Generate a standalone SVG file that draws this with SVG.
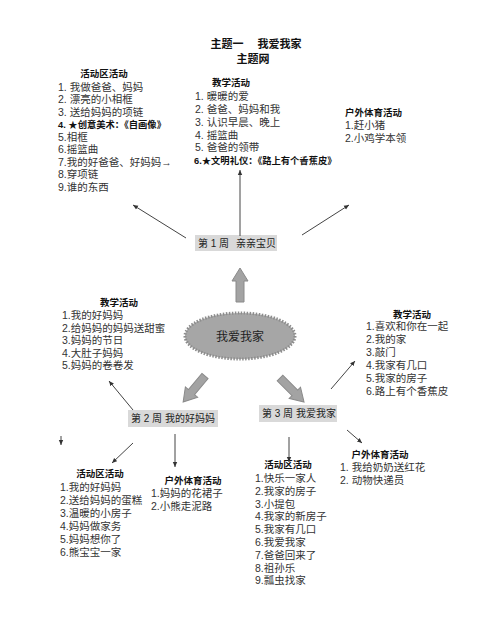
<svg xmlns="http://www.w3.org/2000/svg" width="500" height="619" viewBox="0 0 500 619">
<defs>
<marker id="ah" markerWidth="6" markerHeight="6" refX="5" refY="3" orient="auto" markerUnits="userSpaceOnUse">
<path d="M0,0.8 L5,3 L0,5.2 Z" fill="#333"/>
</marker>
<path id="bigarrow" d="M-4,0 L4,0 L4,21 L8,21 L0,34 L-8,21 L-4,21 Z"/>
</defs>
<style>
text{font-family:"Liberation Sans","Noto Sans CJK SC",sans-serif;fill:#333;font-size:10.5px}
.t{fill:#111;font-size:11px;font-weight:bold;text-anchor:middle}
.h{fill:#111;font-size:9.5px;font-weight:bold;text-anchor:middle}
.hl{fill:#111;font-size:9.5px;font-weight:bold}
.b{fill:#111;font-size:9.3px;font-weight:bold}
.wk{fill:#222;font-size:10px}
.lab{fill:#d9d9d9}
.con line{stroke:#444;stroke-width:1;marker-end:url(#ah)}
.ga{fill:#a3a3a3;stroke:#8a8a8a;stroke-width:1}
</style>
<rect width="500" height="619" fill="#fff"/>

<g id="title">
<text class="t" x="256" y="48">主题一　 我爱我家</text>
<text class="t" x="253" y="63">主题网</text>
</g>

<g id="top-left">
<text class="h" x="104" y="77">活动区活动</text>
<text x="58" y="90.5">1.  我做爸爸、妈妈</text>
<text x="58" y="103">2.  漂亮的小相框</text>
<text x="58" y="115.5">3.  送给妈妈的项链</text>
<text class="b" x="58" y="128">4. ★创意美术：《自画像》</text>
<text x="58" y="140.5">5.相框</text>
<text x="58" y="153">6.摇篮曲</text>
<text x="58" y="165.5">7.我的好爸爸、好妈妈→</text>
<text x="58" y="178">8.穿项链</text>
<text x="58" y="190.5">9.谁的东西</text>
</g>

<g id="top-mid">
<text class="h" x="231" y="86">教学活动</text>
<text x="195" y="100">1.  暖暖的爱</text>
<text x="195" y="113">2.  爸爸、妈妈和我</text>
<text x="195" y="126">3.  认识早晨、晚上</text>
<text x="195" y="139">4.  摇篮曲</text>
<text x="195" y="151">5.  爸爸的领带</text>
<text class="b" x="194" y="164">6.★文明礼仪：《路上有个香蕉皮》</text>
</g>

<g id="top-right">
<text class="hl" x="345" y="116">户外体育活动</text>
<text x="345" y="129">1.赶小猪</text>
<text x="345" y="142">2.小鸡学本领</text>
</g>

<g id="week1">
<rect class="lab" x="195" y="235" width="82" height="16"/>
<text class="wk" x="198" y="247">第 1 周</text>
<text class="wk" x="236" y="247">亲亲宝贝</text>
</g>

<g id="center">
<ellipse cx="240" cy="336" rx="55" ry="23" fill="#a6a6a6" stroke="#8c8c8c" stroke-width="3" stroke-dasharray="1.5 1.5"/>
<text x="240" y="341" text-anchor="middle" style="fill:#222;font-size:12px">我爱我家</text>
</g>

<g id="big-arrows">
<use href="#bigarrow" class="ga" transform="translate(240,302) rotate(180)"/>
<use href="#bigarrow" class="ga" transform="translate(205,376) rotate(40)"/>
<use href="#bigarrow" class="ga" transform="translate(280,378) rotate(-45)"/>
</g>

<g id="week2">
<rect class="lab" x="128" y="410" width="90" height="17"/>
<text class="wk" x="131" y="422">第 2 周</text>
<text class="wk" x="165" y="422">我的好妈妈</text>
</g>

<g id="week3">
<rect class="lab" x="259" y="405" width="78" height="17"/>
<text class="wk" x="262" y="417">第 3 周</text>
<text class="wk" x="296" y="417">我爱我家</text>
</g>

<g id="w2-teach">
<text class="h" x="119" y="306">教学活动</text>
<text x="62" y="319">1.我的好妈妈</text>
<text x="62" y="331.5">2.给妈妈的妈妈送甜蜜</text>
<text x="62" y="344">3.妈妈的节日</text>
<text x="62" y="356.5">4.大肚子妈妈</text>
<text x="62" y="369">5.妈妈的卷卷发</text>
</g>

<g id="w3-teach">
<text class="h" x="412" y="318">教学活动</text>
<text x="366" y="330">1.喜欢和你在一起</text>
<text x="366" y="343">2.我的家</text>
<text x="366" y="356">3.敲门</text>
<text x="366" y="369">4.我家有几口</text>
<text x="366" y="382">5.我家的房子</text>
<text x="366" y="395">6.路上有个香蕉皮</text>
</g>

<g id="w2-area">
<text class="h" x="100" y="477">活动区活动</text>
<text x="60" y="490.5">1.我的好妈妈</text>
<text x="60" y="503.5">2.送给妈妈的蛋糕</text>
<text x="60" y="516.5">3.温暖的小房子</text>
<text x="60" y="529.5">4.妈妈做家务</text>
<text x="60" y="542.5">5.妈妈想你了</text>
<text x="60" y="555.5">6.熊宝宝一家</text>
</g>

<g id="w2-outdoor">
<text class="h" x="193" y="484">户外体育活动</text>
<text x="151" y="496.5">1.妈妈的花裙子</text>
<text x="151" y="509.5">2.小熊走泥路</text>
</g>

<g id="w3-area">
<text class="h" x="288" y="468">活动区活动</text>
<text x="255" y="482">1.快乐一家人</text>
<text x="255" y="494.8">2.我家的房子</text>
<text x="255" y="507.6">3.小提包</text>
<text x="255" y="520.4">4.我家的新房子</text>
<text x="255" y="533.2">5.我家有几口</text>
<text x="255" y="546">6.我爱我家</text>
<text x="255" y="558.8">7.爸爸回来了</text>
<text x="255" y="571.6">8.祖孙乐</text>
<text x="255" y="584.4">9.瓢虫找家</text>
</g>

<g id="w3-outdoor">
<text class="h" x="380" y="458">户外体育活动</text>
<text x="340" y="471">1.  我给奶奶送红花</text>
<text x="340" y="484">2.  动物快递员</text>
</g>

<g id="connectors" class="con">
<line x1="186" y1="238" x2="133" y2="205"/>
<line x1="240" y1="236" x2="240" y2="170"/>
<line x1="302" y1="235" x2="349" y2="205"/>
<line x1="133" y1="410" x2="109" y2="381"/>
<line x1="61" y1="436" x2="61" y2="445"/>
<line x1="133" y1="443" x2="112" y2="463"/>
<line x1="175" y1="434" x2="175" y2="467"/>
<line x1="331" y1="389" x2="355" y2="361"/>
<line x1="347" y1="430" x2="362" y2="443"/>
<line x1="289" y1="437" x2="289" y2="462"/>
</g>
</svg>
